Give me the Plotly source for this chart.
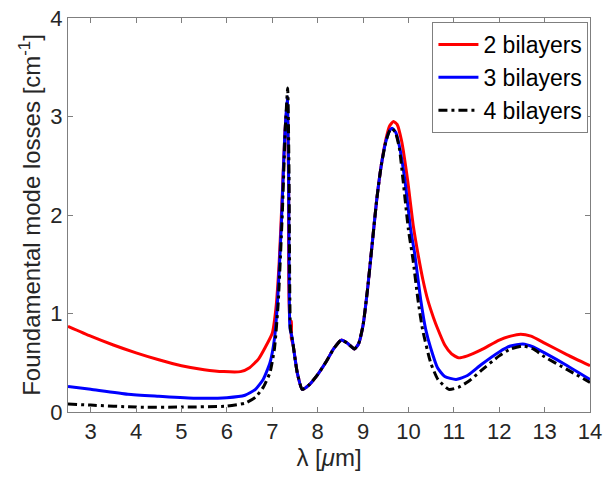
import plotly.graph_objects as go

# wavelength (um) and losses (cm^-1)
x_red = [2.5, 3.0, 3.5, 4.0, 4.5, 5.0, 5.5, 5.93, 6.3, 6.5, 6.7, 6.85, 7.0, 7.08, 7.15, 7.22, 7.28, 7.33, 7.36, 7.39, 7.42, 7.42, 7.46,
         7.55, 7.66, 7.8, 8.0, 8.2, 8.35, 8.52, 8.65, 8.81, 8.9, 9.0, 9.1, 9.2, 9.3, 9.4, 9.5, 9.58, 9.67, 9.75, 9.85, 9.98,
         10.11, 10.22, 10.32, 10.43, 10.55, 10.64, 10.8, 10.95, 11.1, 11.3, 11.6, 12.0, 12.25, 12.47, 12.7, 13.0, 13.5, 14.0]
y_red = [0.87, 0.77, 0.68, 0.60, 0.53, 0.47, 0.43, 0.41, 0.41, 0.45, 0.54, 0.66, 0.80, 1.05, 1.5, 2.2, 2.85, 3.12, 2.3, 0.92, 0.92, 0.75, 0.68,
         0.40, 0.23, 0.27, 0.38, 0.52, 0.64, 0.73, 0.70, 0.64, 0.69, 0.88, 1.25, 1.7, 2.15, 2.5, 2.76, 2.9, 2.95, 2.92, 2.75, 2.36,
         1.88, 1.58, 1.34, 1.13, 0.96, 0.85, 0.68, 0.59, 0.55, 0.57, 0.63, 0.73, 0.77, 0.79, 0.77, 0.70, 0.58, 0.47]

x_blue = [2.5, 3.0, 3.82, 4.5, 5.3, 6.0, 6.4, 6.63, 6.8, 6.95, 7.05, 7.12, 7.2, 7.27, 7.33, 7.36, 7.39, 7.43, 7.46,
          7.55, 7.66, 7.8, 8.0, 8.2, 8.35, 8.52, 8.65, 8.81, 8.9, 9.0, 9.1, 9.2, 9.3, 9.4, 9.5, 9.58, 9.64, 9.72, 9.8, 9.92,
          10.05, 10.14, 10.27, 10.38, 10.49, 10.64, 10.8, 11.05, 11.3, 11.6, 12.0, 12.25, 12.52, 12.75, 13.0, 13.5, 14.0]
y_blue = [0.26, 0.23, 0.18, 0.16, 0.14, 0.145, 0.17, 0.23, 0.33, 0.50, 0.75, 1.15, 1.9, 2.75, 3.2, 2.4, 0.85, 0.77, 0.68,
          0.40, 0.23, 0.27, 0.38, 0.52, 0.64, 0.73, 0.70, 0.64, 0.69, 0.88, 1.25, 1.7, 2.15, 2.5, 2.74, 2.85, 2.88, 2.84, 2.7, 2.36,
          1.85, 1.6, 1.14, 0.84, 0.65, 0.45, 0.36, 0.33, 0.37, 0.48, 0.61, 0.67, 0.69, 0.66, 0.60, 0.47, 0.33]

x_black = [2.5, 3.0, 4.0, 5.0, 6.0, 6.4, 6.63, 6.8, 6.95, 7.05, 7.13, 7.22, 7.29, 7.34, 7.37, 7.4, 7.43, 7.46,
           7.55, 7.66, 7.8, 8.0, 8.2, 8.35, 8.52, 8.65, 8.81, 8.9, 9.0, 9.1, 9.2, 9.3, 9.4, 9.5, 9.58, 9.64, 9.72, 9.8, 9.88,
           10.0, 10.1, 10.21, 10.31, 10.49, 10.65, 10.89, 11.1, 11.35, 11.6, 12.0, 12.25, 12.52, 12.75, 13.0, 13.5, 14.0]
y_black = [0.08, 0.07, 0.05, 0.05, 0.06, 0.09, 0.15, 0.25, 0.40, 0.65, 1.1, 2.0, 2.9, 3.29, 2.4, 0.85, 0.77, 0.68,
           0.40, 0.23, 0.27, 0.38, 0.52, 0.64, 0.73, 0.70, 0.64, 0.69, 0.88, 1.25, 1.7, 2.15, 2.5, 2.74, 2.85, 2.88, 2.83, 2.68, 2.36,
           1.85, 1.55, 1.14, 0.84, 0.50, 0.33, 0.23, 0.25, 0.32, 0.42, 0.57, 0.64, 0.67, 0.64, 0.56, 0.43, 0.30]

x_ticks = list(range(3, 15))
y_ticks = [0, 1, 2, 3, 4]
names = ["2 bilayers", "3 bilayers", "4 bilayers"]

FONT = "Liberation Sans, Arial, sans-serif"
TXT = "#262626"
FS = 22
FS_LABEL = 24

fig = go.Figure()
fig.add_trace(go.Scatter(x=x_red, y=y_red, mode="lines", name=names[0],
                         line=dict(color="#ff0000", width=3, shape="spline", smoothing=0.5)))
fig.add_trace(go.Scatter(x=x_blue, y=y_blue, mode="lines", name=names[1],
                         line=dict(color="#0000ff", width=3, shape="spline", smoothing=0.5)))
fig.add_trace(go.Scatter(x=x_black, y=y_black, mode="lines", name=names[2],
                         line=dict(color="#000000", width=3, shape="spline", smoothing=0.5,
                                   dash="9px,4px,3px,4px")))

axis_common = dict(showline=True, mirror="ticks", linecolor="#7f7f7f", linewidth=1,
                   ticks="inside", ticklen=5, tickcolor="#7f7f7f", showgrid=False, zeroline=False,
                   automargin=False,
                   tickfont=dict(family=FONT, size=FS, color=TXT))

fig.update_xaxes(range=[2.5, 14], tickvals=x_ticks, ticktext=[str(t) for t in x_ticks],
                 title=dict(text="λ [<i>μ</i>m]", font=dict(family=FONT, size=FS_LABEL, color=TXT), standoff=3),
                 **axis_common)
fig.update_yaxes(range=[0, 4], tickvals=y_ticks, ticktext=[str(t) for t in y_ticks],
                 title=dict(text="Foundamental mode losses [cm<sup>-1</sup>]",
                            font=dict(family=FONT, size=FS_LABEL, color=TXT), standoff=2),
                 **axis_common)

fig.update_layout(
    width=604, height=485,
    margin=dict(l=68, r=14, t=18, b=73),
    paper_bgcolor="white", plot_bgcolor="white",
    showlegend=True,
    legend=dict(x=0.997, y=0.99, xanchor="right", yanchor="top",
                bgcolor="white", bordercolor="#7f7f7f", borderwidth=1,
                font=dict(family=FONT, size=23, color="#000000"),
                tracegroupgap=0, itemwidth=40),
)

fig.write_html("out.html")
